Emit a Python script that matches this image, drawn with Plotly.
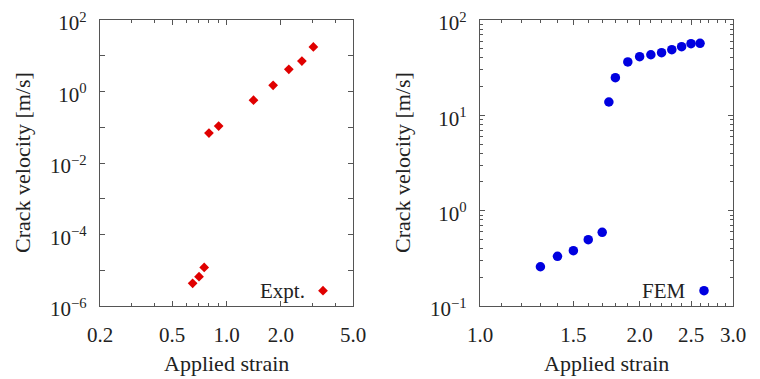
import math
import plotly.graph_objects as go

# ---- data ----
expt_strain = [0.65, 0.705, 0.753, 0.80, 0.905, 1.41, 1.81, 2.21, 2.61, 3.02]
expt_velocity = [4.3e-6, 6.6e-6, 1.2e-5, 0.069, 0.108, 0.57, 1.49, 4.18, 7.1, 17.6]

fem_strain = [1.3, 1.4, 1.5, 1.6, 1.7, 1.75, 1.8, 1.9, 2.0, 2.1, 2.2, 2.3, 2.4, 2.5, 2.6]
fem_velocity = [0.258, 0.332, 0.38, 0.496, 0.593, 13.8, 24.8, 36.3, 41.2, 43.2, 45.4,
                48.8, 52.5, 56.4, 57.0]

# ---- tick labels ----
left_x_ticks = [0.2, 0.5, 1.0, 2.0, 5.0]
left_x_labels = ["0.2", "0.5", "1.0", "2.0", "5.0"]
left_x_minor = [0.3, 0.4, 0.6, 0.7, 0.8, 0.9, 3.0, 4.0]
left_y_exponents = [-6, -5, -4, -3, -2, -1, 0, 1, 2]
left_y_labeled = [-6, -4, -2, 0, 2]

right_x_ticks = [1.0, 1.5, 2.0, 2.5, 3.0]
right_x_labels = ["1.0", "1.5", "2.0", "2.5", "3.0"]
right_x_minor = [1.1, 1.2, 1.3, 1.4, 1.6, 1.7, 1.8, 1.9, 2.1, 2.2, 2.3, 2.4, 2.6, 2.7, 2.8, 2.9]
right_y_exponents = [-1, 0, 1, 2]
right_y_minor = [m * 10.0 ** e for e in (-1, 0, 1) for m in range(2, 10)]

series_names = ["Expt.", "FEM"]


def pow_label(e):
    return "10<sup>%s</sup>" % (("\u2212" + str(-e)) if e < 0 else str(e))


FONT = "Liberation Serif"
TXT = "#222222"
LINE = "#555555"

# the page body has an 8px margin; lay out in window pixels and convert
OFF = 8
W, H = 760 - OFF, 379 - OFF


def PX(x):
    return (x - OFF) / W


def PY(y):
    return (H - (y - OFF)) / H


fig = go.Figure()
fig.add_trace(go.Scatter(
    x=expt_strain, y=expt_velocity, mode="markers", name="",
    marker=dict(symbol="diamond", size=7.5, color="#e00000"),
    xaxis="x", yaxis="y", legend="legend", showlegend=True))
fig.add_trace(go.Scatter(
    x=fem_strain, y=fem_velocity, mode="markers", name="",
    marker=dict(symbol="circle", size=9.5, color="#0000e0"),
    xaxis="x2", yaxis="y2", legend="legend2", showlegend=True))

lx0, lx1 = PX(100), PX(353)
rx0, rx1 = PX(480), PX(733)
y0, y1 = PY(306), PY(20)

common = dict(
    showline=True, linecolor=LINE, linewidth=1.3, mirror="ticks",
    ticks="inside", ticklen=5, tickcolor=LINE, tickwidth=1,
    showgrid=False, zeroline=False, automargin=False,
    ticklabeloverflow="allow",
    tickfont=dict(family=FONT, size=21, color=TXT),
)

legend_common = dict(
    xanchor="left", yanchor="middle",
    bgcolor="rgba(0,0,0,0)", borderwidth=0,
    font=dict(family=FONT, size=21, color=TXT),
    itemwidth=30, tracegroupgap=0,
)

fig.update_layout(
    width=W, height=H,
    margin=dict(l=0, r=0, t=0, b=0),
    paper_bgcolor="white", plot_bgcolor="white",
    font=dict(family=FONT, color=TXT, size=21),
    xaxis=dict(type="log", domain=[lx0, lx1], anchor="y",
               range=[math.log10(0.2), math.log10(5.0)],
               tickvals=left_x_ticks, ticktext=left_x_labels,
               ticklabelstandoff=10,
               minor=dict(tickvals=left_x_minor, ticks="inside", ticklen=3,
                          tickcolor=LINE), **common),
    yaxis=dict(type="log", domain=[y0, y1], anchor="x",
               range=[-6, 2],
               tickvals=[10.0 ** e for e in left_y_exponents],
               ticktext=[pow_label(e) if e in left_y_labeled else "" for e in left_y_exponents],
               ticklabelstandoff=8, ticklabelshift=3, **common),
    xaxis2=dict(type="log", domain=[rx0, rx1], anchor="y2",
                range=[0, math.log10(3.0)],
                tickvals=right_x_ticks, ticktext=right_x_labels,
                ticklabelstandoff=10,
                minor=dict(tickvals=right_x_minor, ticks="inside", ticklen=3,
                           tickcolor=LINE), **common),
    yaxis2=dict(type="log", domain=[y0, y1], anchor="x2",
                range=[-1, 2],
                tickvals=[10.0 ** e for e in right_y_exponents],
                ticktext=[pow_label(e) for e in right_y_exponents],
                ticklabelstandoff=8, ticklabelshift=3,
                minor=dict(tickvals=right_y_minor, ticks="inside", ticklen=3,
                           tickcolor=LINE), **common),
    legend=dict(x=PX(323 - 20), y=PY(291), **legend_common),
    legend2=dict(x=PX(704 - 20), y=PY(291), **legend_common),
)

# legend labels (text to the left of the symbol)
for xr, name in ((307, series_names[0]), (688, series_names[1])):
    fig.add_annotation(text=name, xref="paper", yref="paper",
                       x=PX(xr), y=PY(291), showarrow=False,
                       font=dict(family=FONT, size=21, color=TXT),
                       xanchor="right", yanchor="middle")

# axis titles
for xc in ((100 + 353) / 2, (480 + 733) / 2):
    fig.add_annotation(text="Applied strain", xref="paper", yref="paper",
                       x=PX(xc), y=PY(363), showarrow=False,
                       font=dict(family=FONT, size=22, color=TXT),
                       xanchor="center", yanchor="middle")
for xc in (23, 403):
    fig.add_annotation(text="Crack velocity [m/s]", xref="paper", yref="paper",
                       x=PX(xc), y=PY(163), showarrow=False, textangle=-90,
                       font=dict(family=FONT, size=22, color=TXT),
                       xanchor="center", yanchor="middle")

fig.write_html("out.html")
